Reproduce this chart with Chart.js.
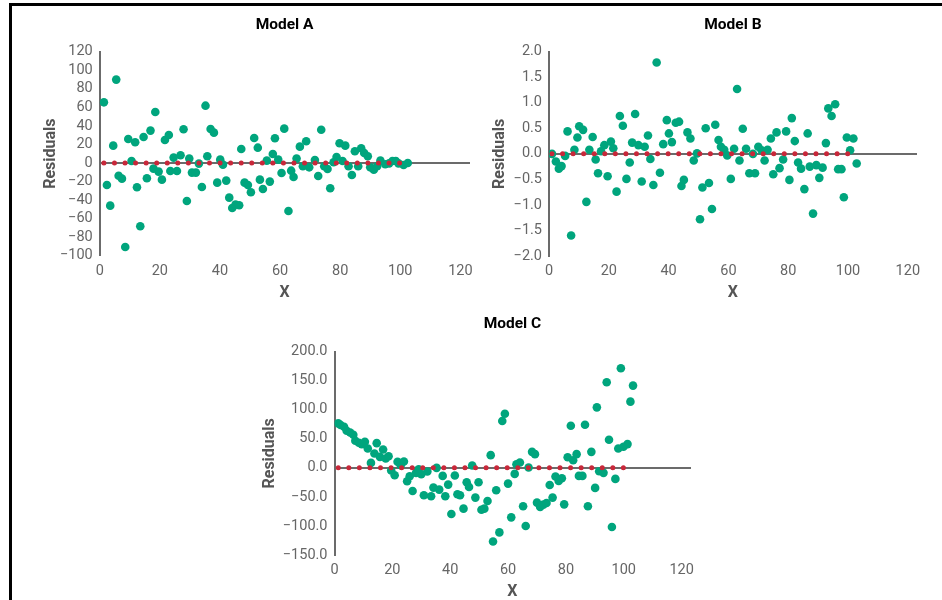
<!DOCTYPE html>
<html><head><meta charset="utf-8">
<script src="https://cdn.jsdelivr.net/npm/chart.js@4/dist/chart.umd.min.js"></script>
<style>
html,body{margin:0;padding:0;background:#fff;}
body{width:942px;height:600px;position:relative;overflow:hidden;}
.frame{position:absolute;left:9px;top:3px;right:-10px;bottom:-10px;border-top:3px solid #000;border-left:3px solid #000;}
canvas{position:absolute;}
</style></head><body>
<div class="frame"></div>
<canvas id="cA" width="480" height="305" style="left:0;top:0"></canvas>
<canvas id="cB" width="462" height="305" style="left:480px;top:0"></canvas>
<canvas id="cC" width="470" height="300" style="left:250px;top:300px"></canvas>
<script>
// ---- data ----
const titles = ['Model A', 'Model B', 'Model C'];
const xTitle = 'X';
const yTitle = 'Residuals';

const aX = [1.4,2.4,3.5,4.5,5.5,6.3,7.4,8.5,9.5,10.6,
  11.8,12.4,13.5,14.6,15.7,16.9,17.9,18.5,19.6,20.7,
  21.7,23.0,23.5,24.6,25.7,26.9,27.9,29.0,29.8,30.7,
  32.0,33.0,34.0,35.2,35.8,36.9,38.0,39.1,40.1,41.0,
  42.1,43.1,44.1,45.2,46.4,47.1,48.2,49.3,50.3,51.4,
  52.6,53.3,54.3,55.6,56.6,57.6,58.3,59.4,60.5,61.4,
  62.8,63.7,64.5,65.5,66.6,67.6,68.7,69.7,71.6,72.7,
  73.7,74.7,75.8,76.7,77.8,78.8,79.8,80.8,81.7,82.8,
  83.9,84.9,86.0,87.0,88.0,89.2,90.0,91.2,92.3,93.4,
  95.0,96.3,97.4,98.5,99.4,101.1,102.5];
const aY = [65.4,-23.7,-46,18.7,89.9,-13.7,-16.9,-90.6,25.9,2.2,
  22.3,-26.2,-68.3,28,-16.5,34.9,-6.1,55,-9.3,-18,
  24.8,30.2,-8.6,5.8,-8.6,8.3,36.3,-41,4.7,-10.4,
  -10.4,-0.7,-25.9,61.8,7.2,36.7,32.7,-21.2,3.6,-1.8,
  -19,-37.4,-48.5,-44.9,-45.6,15.1,-21.2,-23.7,-31.6,27,
  16.5,-18,-28,2.5,-20.1,9.7,26.6,3.6,-10.8,37,
  -51.8,-8.3,-15.1,4.7,17.6,-3.6,23.4,-4.7,3.2,-14,
  35.9,-3.6,-6.5,-27.3,0.7,6.5,21.2,2.2,18.7,-3.6,
  -12.9,12.6,-3.6,15.8,10.8,7.2,-4.7,-7.2,-3.6,2.5,
  -1.4,-0.4,2.2,2.2,-0.4,-2.2,0];

const bX = [1.0,2.3,3.3,4.2,5.4,6.2,7.4,8.5,9.5,10.1,
  11.4,12.5,13.5,14.6,15.6,16.4,17.4,18.5,19.6,20.7,
  21.5,22.6,23.7,24.7,25.9,27.0,27.8,28.8,29.9,31.0,
  32.0,33.1,33.9,34.9,36.0,37.1,38.2,39.4,40.1,41.1,
  42.4,43.5,44.3,45.1,46.3,47.3,48.4,49.5,50.5,51.3,
  52.4,53.5,54.5,55.6,56.7,57.5,58.6,59.6,60.8,61.9,
  62.9,63.7,64.8,65.9,67.0,68.2,68.9,70.0,71.1,72.1,
  73.1,74.2,75.0,76.1,77.1,78.3,79.3,80.4,81.2,82.2,
  83.3,84.3,85.4,86.5,87.2,88.3,89.4,90.4,91.5,92.6,
  93.4,94.5,95.7,96.7,97.8,98.6,99.6,100.7,101.8,102.9];
const bY = [0.0,-0.15,-0.29,-0.24,-0.04,0.44,-1.60,0.08,0.32,0.54,
  0.47,-0.94,0.08,0.33,-0.11,-0.38,0.05,0.17,-0.44,0.24,
  0.11,-0.74,0.74,0.55,-0.49,-0.17,0.22,0.78,0.17,-0.54,
  0.14,0.36,-0.10,-0.61,1.79,-0.37,0.19,0.66,0.40,0.23,
  0.61,0.63,-0.63,-0.51,0.42,0.30,-0.13,0.01,-1.28,-0.66,
  0.50,-0.57,-1.08,0.57,0.27,0.14,0.08,-0.03,-0.49,0.10,
  1.27,-0.13,0.49,0.10,-0.38,0.0,-0.38,0.14,0.07,-0.13,
  0.08,0.30,-0.40,0.42,-0.28,-0.11,0.44,-0.51,0.70,0.25,
  -0.17,-0.29,-0.69,0.40,-0.25,-1.17,-0.22,-0.47,-0.27,0.21,
  0.89,0.74,0.97,-0.30,-0.30,-0.85,0.32,0.07,0.30,-0.19];

const cX = [1.3,2.1,3.3,4.2,5.4,6.5,7.2,8.4,9.4,10.5,
  11.5,12.6,13.8,14.6,15.7,16.8,17.7,18.7,19.6,20.8,
  21.8,22.9,24.0,25.1,26.0,27.0,28.2,29.1,30.0,30.9,
  32.1,33.4,34.2,35.3,36.2,37.4,38.3,39.3,40.4,41.6,
  42.5,43.4,44.6,45.7,46.5,47.6,48.7,49.8,50.8,51.8,
  52.9,54.0,54.8,55.9,57.0,58.0,58.9,60.0,61.1,62.3,
  62.9,64.1,65.2,66.1,67.1,68.3,69.3,70.0,71.1,72.2,
  73.3,74.4,75.4,76.4,77.5,78.6,79.4,80.6,81.7,82.5,
  83.7,84.5,85.7,86.6,87.6,88.8,90.1,90.7,91.5,93.0,
  94.1,94.9,95.9,97.1,98.1,99.0,99.9,101.3,102.3,103.2];
const cY = [76.6,73.7,70.8,63.9,61.0,57.0,46.6,43.2,40.9,44.9,
  33.4,8.6,24.8,42.6,19.0,31.7,16.1,20.1,-4.6,-12.7,
  10.4,4.6,10.9,-23.0,-14.4,-39.7,-8.6,-2.3,-10.9,-47.2,
  -6.3,-48.9,-34.0,0.0,-37.4,-13.8,-48.9,-28.8,-79.4,-13.2,
  -45.5,-47.2,-70.2,-24.8,-32.8,4.0,-51.2,-24.8,-72.0,-70.2,
  -57.0,21.9,-126.7,-38.6,-111.1,80.6,93.3,-27.1,-85.2,-10.4,
  6.3,9.2,-66.2,-100.2,0.6,27.6,23.6,-59.9,-67.4,-63.3,
  -60.4,-29.4,-51.2,-15.0,-22.5,-17.8,-62.8,18.4,72.5,13.2,
  23.6,-13.8,-13.8,74.3,-66.2,27.6,-34.5,104.2,-5.8,-8.6,
  147.4,48.4,-101.9,-19.0,33.4,171.6,36.3,40.9,114.0,141.6];

const xTicks = [0, 120, 20];          // min, max label, step
const aYTicks = [-100, 120, 20];
const bYTicks = [-2, 2, 0.5];
const cYTicks = [-150, 200, 50];

// ---- style ----
const GREEN = '#00a57d', RED = '#c8283a', AXIS = '#6b6b6b', TICK = '#666666', LABEL = '#555555';
const FONT = "Roboto, 'Liberation Sans', sans-serif";
const X_MAX = 123;

function fmt(dec) {
  return v => {
    const s = Number(v).toFixed(dec);
    return s.startsWith('-') ? '\u2212' + s.slice(1) : s;
  };
}

function build(id, p) {
  const pts = p.xs.map((x, i) => ({x: x, y: p.ys[i]}));
  const zero = [{x: Math.min(...p.xs), y: 0}, {x: Math.max(...p.xs), y: 0}];
  new Chart(document.getElementById(id), {
    type: 'scatter',
    data: {datasets: [
      {type: 'line', data: zero, xAxisID: 'x', yAxisID: 'y', borderColor: RED, borderWidth: 5,
       borderDash: [0, 10.56], borderCapStyle: 'round', pointRadius: 0, fill: false, order: 0},
      {data: pts, xAxisID: 'x', yAxisID: 'y', backgroundColor: GREEN, borderWidth: 0,
       pointRadius: 4.3, pointHoverRadius: 4.3, order: 1}
    ]},
    options: {
      responsive: false, animation: false, events: [],
      layout: {padding: {left: 0, right: p.padRight, top: 0, bottom: 0}},
      plugins: {
        legend: {display: false}, tooltip: {enabled: false},
        title: {display: true, fullSize: false, text: p.title, color: '#000',
          font: {family: FONT, size: 15.5, weight: 'bold', lineHeight: 1.2},
          padding: {top: p.tTop, bottom: p.tBottom}}
      },
      scales: {
        x: {type: 'linear', axis: 'x', position: 'bottom', min: xTicks[0], max: X_MAX,
          grid: {display: false, drawTicks: false}, border: {display: false},
          ticks: {stepSize: xTicks[2], includeBounds: false, color: TICK, font: {family: FONT, size: 14.5},
            padding: 7, maxRotation: 0, autoSkip: false,
            callback: v => (v <= xTicks[1] ? String(v) : '')},
          title: {display: true, text: xTitle, color: LABEL,
            font: {family: FONT, size: 16, weight: 'bold', lineHeight: 1}, padding: {top: 0, bottom: p.xtBottom}},
          afterFit: s => { s.height = p.xH; }
        },
        x0: {type: 'linear', axis: 'x', position: {y: 0}, min: xTicks[0], max: X_MAX,
          grid: {display: false, drawTicks: false}, border: {display: true, color: AXIS, width: 2},
          ticks: {display: false}},
        y: {type: 'linear', axis: 'y', position: 'left', min: p.yt[0], max: p.yt[1],
          grid: {display: false, drawTicks: false}, border: {display: true, color: AXIS, width: 2},
          ticks: {stepSize: p.yt[2], color: TICK, font: {family: FONT, size: 14.5}, padding: 7, autoSkip: false,
            callback: fmt(p.dec)},
          title: {display: true, text: yTitle, color: LABEL,
            font: {family: FONT, size: 16, weight: 'bold', lineHeight: 1.2}, padding: {top: p.ytTop, bottom: 0}},
          afterFit: s => { s.width = p.yW; }
        }
      }
    }
  });
}

build('cA', {xs: aX, ys: aY, title: titles[0], yt: aYTicks, dec: 0,
  yW: 99.7, padRight: 10.6, tTop: 16, tBottom: 17.1, xH: 49.3, xtBottom: 4.5, ytTop: 40.9});
build('cB', {xs: bX, ys: bY, title: titles[1], yt: bYTicks, dec: 1,
  yW: 69, padRight: 25.2, tTop: 16, tBottom: 17.1, xH: 49, xtBottom: 4.5, ytTop: 10.4});
build('cC', {xs: cX, ys: cY, title: titles[2], yt: cYTicks, dec: 1,
  yW: 84.5, padRight: 29.7, tTop: 15, tBottom: 18.1, xH: 45, xtBottom: 0, ytTop: 10.4});
</script>
</body></html>
